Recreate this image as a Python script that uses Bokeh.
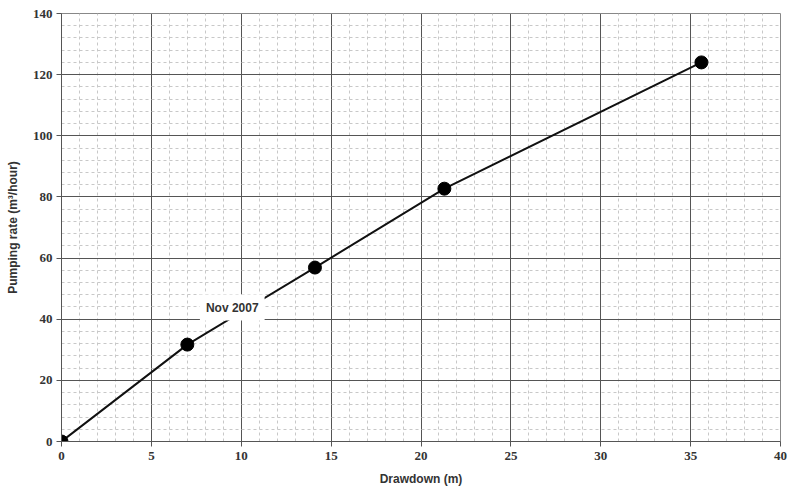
from bokeh.plotting import figure
from bokeh.models import Label, SingleIntervalTicker, Range1d
from bokeh.embed import file_html
from bokeh.resources import INLINE

drawdown = [0.0, 7.0, 14.1, 21.3, 35.6]
pumping = [0.0, 31.7, 56.9, 82.7, 124.0]
label_text = "Nov 2007"

p = figure(width=787, height=492, output_backend="svg", toolbar_location=None,
           x_range=Range1d(0, 40), y_range=Range1d(0, 140),
           min_border_left=61, min_border_right=7, min_border_top=13, min_border_bottom=51)

p.background_fill_color = "white"
p.outline_line_color = "#888888"
p.outline_line_width = 1

p.xaxis.ticker = SingleIntervalTicker(interval=5, num_minor_ticks=5)
p.yaxis.ticker = SingleIntervalTicker(interval=20, num_minor_ticks=5)

for g in (p.xgrid, p.ygrid):
    g.grid_line_color = "#555555"
    g.grid_line_width = 1
    g.minor_grid_line_color = "#c8c8c8"
    g.minor_grid_line_dash = "3 3"
    g.minor_grid_line_width = 1

for ax in (p.xaxis, p.yaxis):
    ax.axis_line_color = "#555555"
    ax.major_tick_line_color = "#555555"
    ax.major_tick_out = 5
    ax.major_tick_in = 0
    ax.minor_tick_line_color = None
    ax.major_label_text_font = "Liberation Serif"
    ax.major_label_text_font_style = "bold"
    ax.major_label_text_font_size = "13px"
    ax.major_label_text_color = "#333333"
    ax.axis_label_text_font = "Liberation Sans"
    ax.axis_label_text_font_style = "bold"
    ax.axis_label_text_font_size = "12px"
    ax.axis_label_text_color = "#333333"

p.xaxis.axis_label = "Drawdown (m)"
p.yaxis.axis_label = "Pumping rate (m³/hour)"
p.xaxis.major_label_standoff = 5
p.yaxis.major_label_standoff = 4
p.xaxis.axis_label_standoff = 9
p.yaxis.axis_label_standoff = 10

p.line(drawdown, pumping, line_color="#111111", line_width=2)
p.scatter(drawdown, pumping, size=13, fill_color="#000000", line_color="#000000")

lab = Label(x=9.5, y=43.8, text=label_text, text_align="center", text_baseline="middle",
            text_font="Liberation Sans", text_font_style="bold", text_font_size="12px",
            text_color="#333333", background_fill_color="white", padding=6)
p.add_layout(lab)

open("out.html", "w").write(file_html(p, INLINE))
